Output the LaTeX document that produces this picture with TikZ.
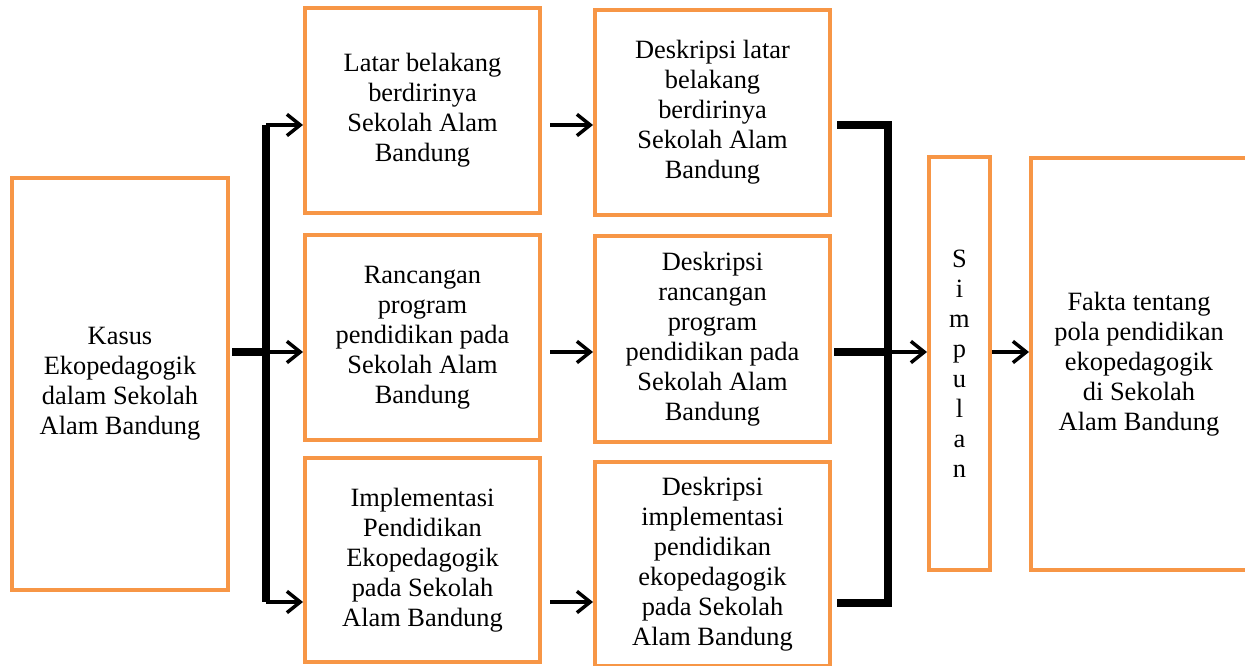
\documentclass[tikz,border=0pt]{standalone}
\usepackage{fontspec}
\setmainfont{Liberation Serif}
\usetikzlibrary{arrows.meta}
\definecolor{boxorange}{HTML}{F79646}
\begin{document}
\begin{tikzpicture}[x=0.75pt,y=-0.75pt,
  box/.style={draw=boxorange,line width=3pt,align=center,inner sep=0pt,
    font=\fontsize{19.8}{22.5}\selectfont},
  arr/.style={line width=2.6pt,-{Straight Barb[length=10pt,width=16pt]}},
  bar/.style={line width=6pt,line join=miter}]
\useasboundingbox (0,0) rectangle (1245,666);
% boxes
\node[box,minimum width=162pt,minimum height=309pt] (L) at (120,384)
  {Kasus\\Ekopedagogik\\dalam Sekolah\\Alam Bandung};
\node[box,minimum width=176.25pt,minimum height=153.75pt] (A1) at (422.5,110.5)
  {Latar belakang\\berdirinya\\Sekolah Alam\\Bandung};
\node[box,minimum width=176.25pt,minimum height=153.75pt] (A2) at (422.5,337.5)
  {Rancangan\\program\\pendidikan pada\\Sekolah Alam\\Bandung};
\node[box,minimum width=176.25pt,minimum height=153pt] (A3) at (422.5,560)
  {Implementasi\\Pendidikan\\Ekopedagogik\\pada Sekolah\\Alam Bandung};
\node[box,minimum width=176.25pt,minimum height=153.75pt] (B1) at (712.5,112.5)
  {Deskripsi latar\\belakang\\berdirinya\\Sekolah Alam\\Bandung};
\node[box,minimum width=176.25pt,minimum height=154.5pt] (B2) at (712.5,339)
  {Deskripsi\\rancangan\\program\\pendidikan pada\\Sekolah Alam\\Bandung};
\node[box,minimum width=176.25pt,minimum height=153pt] (B3) at (712.5,564)
  {Deskripsi\\implementasi\\pendidikan\\ekopedagogik\\pada Sekolah\\Alam Bandung};
\node[box,minimum width=45.75pt,minimum height=309.75pt] (S) at (959.5,363.5)
  {S\\i\\m\\p\\u\\l\\a\\n};
\node[box,minimum width=162pt,minimum height=309pt] (F) at (1139,364)
  {Fakta tentang\\pola pendidikan\\ekopedagogik\\di Sekolah\\Alam Bandung};
% left fork
\coordinate (j1) at (266,125);
\coordinate (j2) at (266,352);
\coordinate (j3) at (266,602);
\draw[bar] ([xshift=1.5pt]L.east |- j2) -- (j2);
\draw[bar] (j1) -- (j3);
\draw[arr] (j1) -- (j1 -| A1.west);
\draw[arr] (j2) -- (j2 -| A2.west);
\draw[arr] (j3) -- (j3 -| A3.west);
% middle arrows
\draw[arr,shorten <=6pt] (A1.east |- j1) -- (j1 -| B1.west);
\draw[arr,shorten <=6pt] (A2.east |- j2) -- (j2 -| B2.west);
\draw[arr,shorten <=6pt] (A3.east |- j3) -- (j3 -| B3.west);
% right bracket
\coordinate (k1) at (888,125);
\coordinate (k2) at (888,352);
\coordinate (k3) at (888,603);
\draw[bar] ([xshift=3.75pt]B1.east |- k1) -- (k1) -- (k3) -- ([xshift=3.75pt]B3.east |- k3);
\draw[bar] ([xshift=1.5pt]B2.east |- k2) -- (k2);
\draw[arr] (k2) -- (k2 -| S.west);
\draw[arr] (S.east |- k2) -- (k2 -| F.west);
\end{tikzpicture}
\end{document}
